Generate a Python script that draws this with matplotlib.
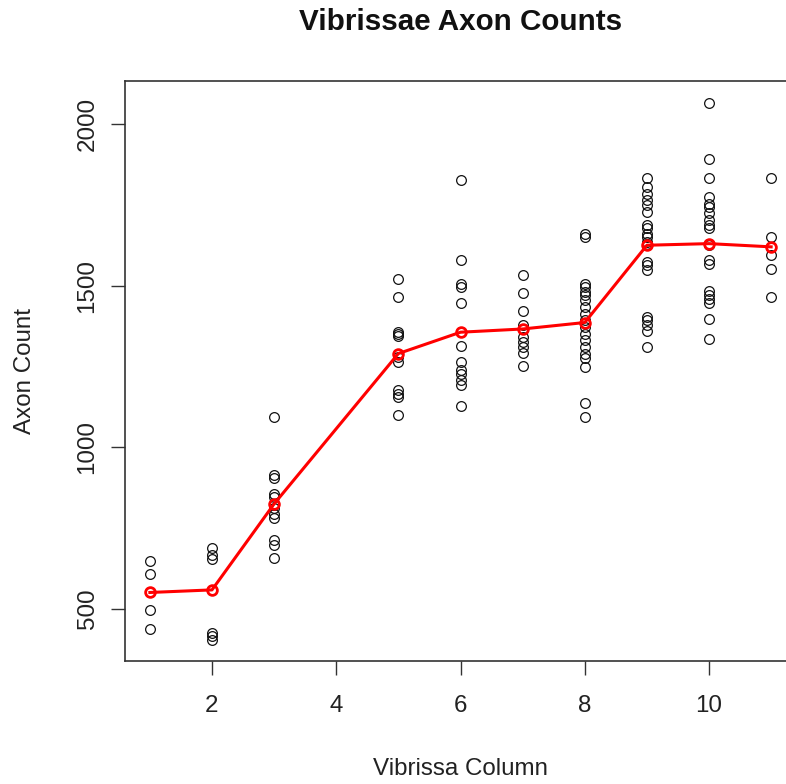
import matplotlib
matplotlib.use("Agg")
import matplotlib.pyplot as plt

plt.rcParams['font.family'] = ['Liberation Sans', 'DejaVu Sans']

# axon counts per vibrissa column
col_1 = [649, 607, 496, 439]
col_2 = [690, 667, 654, 427, 416, 403]
col_3 = [1095, 915, 905, 855, 845, 822, 812, 793, 781, 713, 698, 659]
col_5 = [1522, 1465, 1356, 1351, 1345, 1280, 1264, 1176, 1165, 1155, 1101]
col_6 = [1827, 1579, 1506, 1496, 1445, 1312, 1264, 1238, 1227, 1207, 1194, 1129]
col_7 = [1534, 1477, 1421, 1377, 1341, 1325, 1310, 1291, 1250]
col_8 = [1659, 1651, 1504, 1495, 1481, 1470, 1457, 1434, 1413, 1395, 1372,
         1351, 1331, 1310, 1290, 1275, 1248, 1136, 1095]
col_9 = [1832, 1806, 1785, 1765, 1749, 1728, 1687, 1677, 1661, 1651, 1635,
         1630, 1573, 1563, 1548, 1403, 1393, 1377, 1360, 1310]
col_10 = [2066, 1891, 1834, 1775, 1754, 1744, 1724, 1703, 1687, 1677, 1630,
          1625, 1579, 1568, 1483, 1472, 1460, 1445, 1398, 1336]
col_11 = [1834, 1651, 1594, 1550, 1465]

columns = [1, 2, 3, 5, 6, 7, 8, 9, 10, 11]
counts = [col_1, col_2, col_3, col_5, col_6, col_7, col_8, col_9, col_10, col_11]
means = [551, 559, 825, 1290, 1356, 1366, 1386, 1625, 1630, 1620]

W, H = 786, 784
fig = plt.figure(figsize=(W / 100, H / 100), dpi=100)
ax = fig.add_axes([125 / W, (H - 660.7) / H, 671 / W, 579.7 / H])

for c, vals in zip(columns, counts):
    ax.plot([c] * len(vals), vals, linestyle='none', marker='o', markersize=7,
            markerfacecolor='none', markeredgecolor='#111111', markeredgewidth=0.9)

ax.plot(columns, means, color='red', linewidth=2.2, marker='o', markersize=7,
        markerfacecolor='none', markeredgecolor='red', markeredgewidth=2.0)

ax.set_xlim(0.6, 11.4)
ax.set_ylim(340, 2133)
ax.set_xticks([2, 4, 6, 8, 10])
ax.set_yticks([500, 1000, 1500, 2000])
ax.tick_params(direction='out', length=10, width=1.0, labelsize=17.4,
               color='#333333', labelcolor='#222222')
ax.tick_params(axis='x', pad=15)
ax.tick_params(axis='y', pad=9)
for lab in ax.get_yticklabels():
    lab.set_rotation(90)
    lab.set_va('center')
for sp in ax.spines.values():
    sp.set_linewidth(1.2)
    sp.set_color('#333333')

fig.text(460.5 / W, 1 - 22.5 / H, 'Vibrissae Axon Counts', ha='center', va='center',
         fontsize=21.3, fontweight='bold', color='#111111')
fig.text(460.5 / W, 1 - 769 / H, 'Vibrissa Column', ha='center', va='center',
         fontsize=17.4, color='#222222')
fig.text(25 / W, 1 - 371 / H, 'Axon Count', ha='center', va='center', rotation=90,
         fontsize=17.4, color='#222222')

fig.savefig('out.png', dpi=100)
